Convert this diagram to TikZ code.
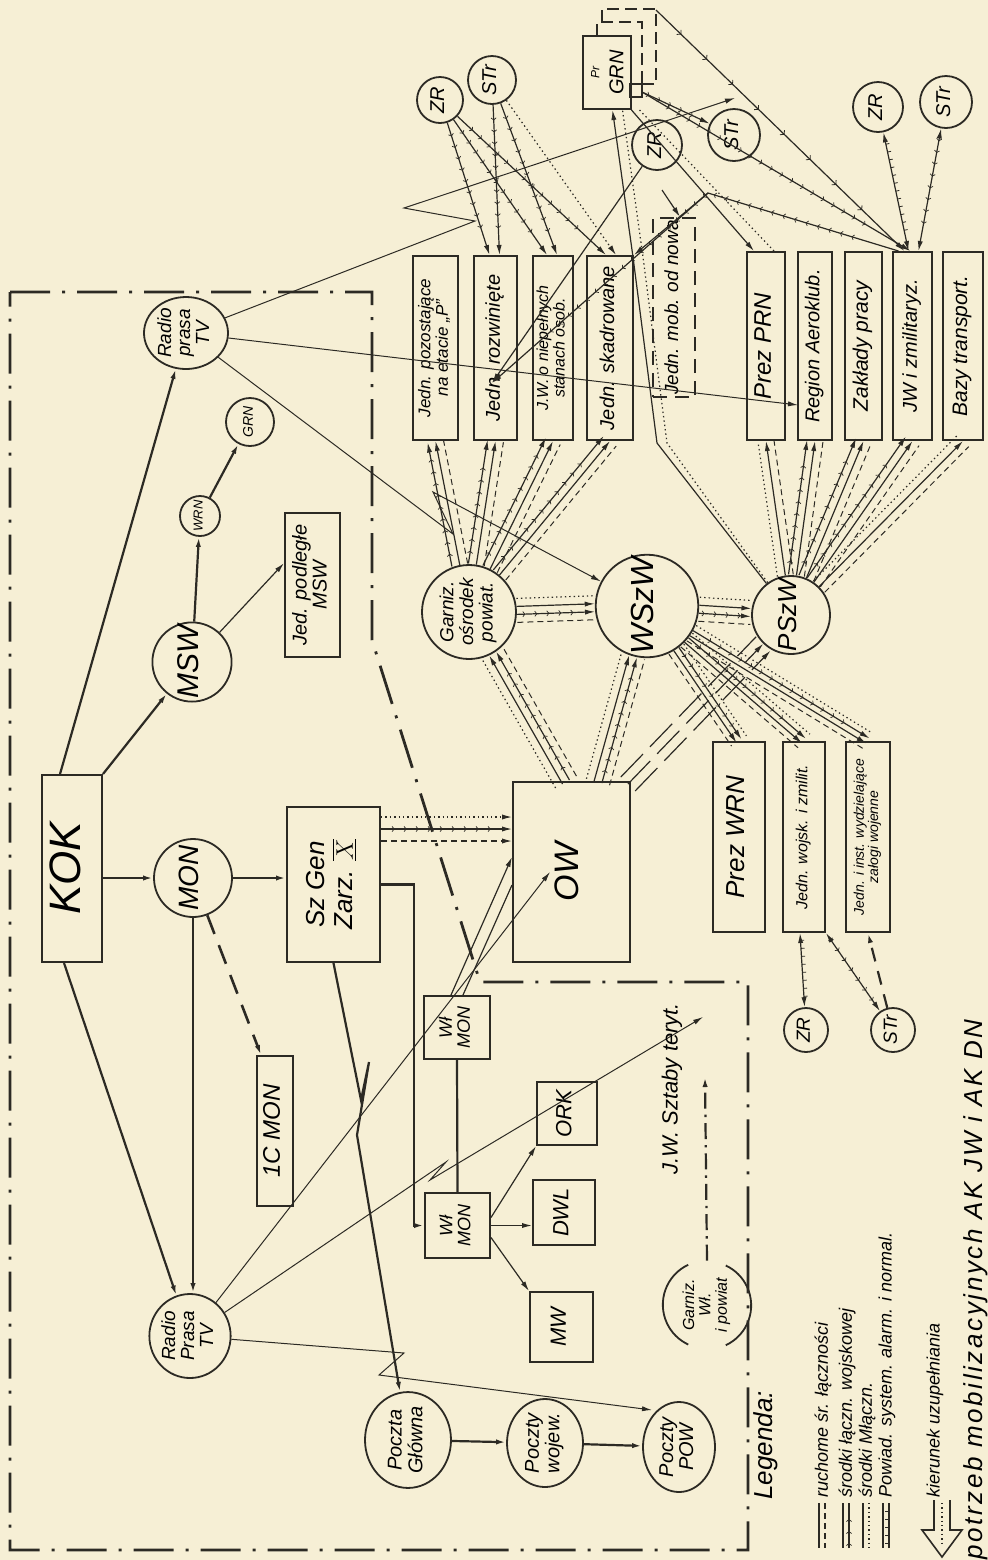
\documentclass[tikz,border=0pt]{standalone}
\usepackage{fontspec}
\setmainfont{Liberation Sans}
\usetikzlibrary{arrows.meta,calc,decorations.markings,shapes.geometric}
\definecolor{paper}{HTML}{F6EFD5}
\definecolor{ink}{HTML}{2C2A24}
\newcommand\rt[1]{\rotatebox{90}{\begin{tabular}{@{}c@{}}#1\end{tabular}}}
\newcommand\fs[1]{\fontsize{#1}{#1}\selectfont\itshape}
\newcommand\bund[3]{%
  \path let \p1=($(#2)-(#1)$) in \pgfextra{\pgfmathsetmacro\bundtmp{atan2(\y1,\x1)}\global\let\bundang\bundtmp};%
  \foreach \o/\s in {#3}{\draw[\s,transform canvas={shift={({\bundang+90}:\o)}}] (#1) -- (#2);}%
}
\tikzset{
  L/.style={draw=ink,line width=0.6pt},
  R/.style={draw=ink,line width=0.5pt},
  thk/.style={line width=1.1pt},
  A/.style={-{Latex[length=5pt,width=2.6pt]}},
  AA/.style={{Latex[length=5pt,width=2.6pt]}-{Latex[length=5pt,width=2.6pt]}},
  vm/.style={postaction={decorate,decoration={markings,mark=between positions 0.1 and 0.86 step 6pt with {\draw[ink,-,solid,line width=.35pt] (-1pt,1.3pt)--(0,0)--(-1pt,-1.3pt);}}}},
  sm/.style={postaction={decorate,decoration={markings,mark=between positions 0.1 and 0.86 step 18pt with {\draw[ink,-,solid,line width=.4pt] (-1.4pt,1.6pt)--(0,0)--(-1.4pt,-1.6pt);}}}},
  tm/.style={postaction={decorate,decoration={markings,mark=between positions 0.1 and 0.86 step 4pt with {\draw[ink,-,solid,line width=.4pt] (0,0)--(0,1.8pt);}}}},
  dt/.style={dash pattern=on 0.7pt off 1.5pt},
  ds/.style={dash pattern=on 3pt off 2pt},
  bsa/.style={L,A},
  bs/.style={L},
  bva/.style={L,A,vm},
  bv/.style={L,vm},
  bd/.style={L,ds,line width=.5pt},
  bdo/.style={L,dt},
  bka/.style={L,A,dash pattern=on 16pt off 5pt},
  bk/.style={L,dash pattern=on 16pt off 5pt},
  box/.style={draw=ink,line width=1pt,rectangle,inner sep=0pt},
  circ/.style={draw=ink,line width=.9pt,circle,inner sep=0pt},
  ell/.style={draw=ink,line width=.9pt,ellipse,inner sep=0pt},
  bord/.style={draw=ink,line width=1.4pt,dash pattern=on 20pt off 6pt on 1.5pt off 6pt},
  lab/.style={rotate=90,anchor=west,inner sep=0pt}
}
\begin{document}
\begin{tikzpicture}[x=0.5pt,y=-0.5pt]
\useasboundingbox (0,0) rectangle (988,1560);
\fill[paper] (0,0) rectangle (988,1560);
% border
\draw[bord] (10,292) -- (372,292) -- (372,640) -- (480,982) -- (748,982) -- (748,1550) -- (10,1550) -- cycle;
% ---------- nodes ----------
\node[box,minimum width=30pt,minimum height=93.5pt,font=\fs{22}] (KOK) at (72,868.5) {\rt{KOK}};
\node[circ,minimum size=39pt,font=\fs{14}] (MON) at (193,878) {\rt{MON}};
\node[box,minimum width=46.5pt,minimum height=77.5pt,font=\fs{13}] (SzGen) at (333.5,884.5) {\rt{Sz Gen\\Zarz. $\overline{\underline{X}}$}};
\node[box,minimum width=18pt,minimum height=75pt,font=\fs{12}] (IC) at (275,1131) {\rt{1C MON}};
\node[circ,minimum size=39pt,font=\fs{15}] (MSW) at (192,662) {\rt{MSW}};
\node[circ,minimum size=20pt,font=\fs{6.5}] (WRN) at (200,516) {\rt{WRN}};
\node[circ,minimum size=24pt,font=\fs{7}] (GRNs) at (250,422) {\rt{GRN}};
\node[box,minimum width=27.5pt,minimum height=72pt,font=\fs{10}] (JedP) at (312.5,585) {\rt{Jed. podległe\\MSW}};
\node[ell,minimum width=42pt,minimum height=36pt,font=\fs{9.5}] (RPt) at (186,333) {\rt{Radio\\prasa\\TV}};
\node[ell,minimum width=40pt,minimum height=42pt,font=\fs{9.5}] (RPb) at (190,1336) {\rt{Radio\\Prasa\\TV}};
\node[ell,minimum width=43pt,minimum height=46pt,font=\fs{10}] (PG) at (408,1440) {\rt{Poczta\\Główna}};
\node[ell,minimum width=38pt,minimum height=44pt,font=\fs{10}] (PW) at (545,1443) {\rt{Poczty\\wojew.}};
\node[ell,minimum width=36pt,minimum height=45pt,font=\fs{10}] (PP) at (679,1447) {\rt{Poczty\\POW}};
\node[circ,minimum size=47pt,font=\fs{9.5}] (Gar) at (469,612) {\rt{Garniz.\\ośrodek\\powiat.}};
\node[circ,minimum size=47pt,font=\fs{16}] (WSzW) at (647,606) {\rt{WSzW}};
\node[circ,minimum size=39pt,font=\fs{13}] (PSzW) at (791,615) {\rt{PSzW}};
\node[box,minimum width=58.5pt,minimum height=90pt,font=\fs{17}] (OW) at (571.5,872) {\rt{OW}};
\node[box,minimum width=26pt,minimum height=95pt,font=\fs{13}] (PrezWRN) at (739,837) {\rt{Prez WRN}};
\node[box,minimum width=21pt,minimum height=95pt,font=\fs{8}] (JWZ) at (804,837) {\rt{Jedn. wojsk. i zmilit.}};
\node[box,minimum width=22pt,minimum height=95pt,font=\fs{7}] (JIN) at (868,837) {\rt{Jedn. i inst. wydzielające\\załogi wojenne}};
\node[box,minimum width=33pt,minimum height=31.5pt,font=\fs{9}] (WM1) at (457,1027.5) {\rt{Wł\\MON}};
\node[box,minimum width=32.5pt,minimum height=32.5pt,font=\fs{9}] (WM2) at (457.5,1225.5) {\rt{Wł\\MON}};
\node[box,minimum width=30pt,minimum height=31.5pt,font=\fs{11}] (ORK) at (567,1113.5) {\rt{ORK}};
\node[box,minimum width=31pt,minimum height=32.5pt,font=\fs{11}] (DWL) at (564,1212.5) {\rt{DWL}};
\node[box,minimum width=31.5pt,minimum height=35pt,font=\fs{11}] (MW) at (561.5,1327) {\rt{MW}};
\node[circle,minimum size=44pt,inner sep=0pt,font=\fs{8}] (GW) at (707,1305) {\rt{Garniz.\\Wł.\\i powiat}};
% Jedn boxes
\node[box,minimum width=22.5pt,minimum height=92pt,font=\fs{8.5}] (J1) at (435.5,348) {\rt{Jedn. pozostające\\na etacie „P”}};
\node[box,minimum width=21.5pt,minimum height=92pt,font=\fs{10}] (J2) at (495.5,348) {\rt{Jedn. rozwinięte}};
\node[box,minimum width=20pt,minimum height=92pt,font=\fs{8}] (J3) at (553,348) {\rt{J.W. o niepełnych\\stanach osob.}};
\node[box,minimum width=23pt,minimum height=92pt,font=\fs{10}] (J4) at (610,348) {\rt{Jedn. skadrowane}};
\node[box,dash pattern=on 7pt off 4pt,line width=1.1pt,minimum width=21pt,minimum height=89.5pt,font=\fs{9.5}] (J5) at (674,307.5) {\rt{Jedn. mob. od nowa}};
% PSzW boxes
\node[box,minimum width=19pt,minimum height=94pt,font=\fs{12}] (P1) at (766,346) {\rt{Prez PRN}};
\node[box,minimum width=17pt,minimum height=94pt,font=\fs{10}] (P2) at (815,346) {\rt{Region Aeroklub.}};
\node[box,minimum width=18.5pt,minimum height=94pt,font=\fs{10.5}] (P3) at (863.5,346) {\rt{Zakłady pracy}};
\node[box,minimum width=19.5pt,minimum height=94pt,font=\fs{10}] (P4) at (912.5,346) {\rt{JW i zmilitaryz.}};
\node[box,minimum width=20pt,minimum height=94pt,font=\fs{10.5}] (P5) at (963,346) {\rt{Bazy transport.}};
% small circles
\node[circ,minimum size=23pt,font=\fs{10}] (ZR1) at (440,100) {\rt{ZR}};
\node[circ,minimum size=24pt,font=\fs{10}] (ST1) at (492,80) {\rt{STr}};
\node[box,minimum width=23.5pt,minimum height=36.5pt] (GRNb) at (606.5,72.5) {\rt{{\fs{6}Pr}\\{\fs{10}GRN}}};
\node[circ,minimum size=25pt,font=\fs{10}] (ZR2) at (657,145) {\rt{ZR}};
\node[circ,minimum size=26pt,font=\fs{10}] (ST2) at (734,135) {\rt{STr}};
\node[circ,minimum size=25pt,font=\fs{10}] (ZR3) at (878,107) {\rt{ZR}};
\node[circ,minimum size=26pt,font=\fs{10}] (ST3) at (946,102) {\rt{STr}};
\node[circ,minimum size=22pt,font=\fs{9.5}] (ZR4) at (806,1030) {\rt{ZR}};
\node[circ,minimum size=22pt,font=\fs{9.5}] (ST4) at (893,1030) {\rt{STr}};
% GRN dashed outlines
\draw[ink,line width=1.1pt,dash pattern=on 6pt off 3pt] (597,36) -- (597,22) -- (642,22) -- (642,84);
\draw[ink,line width=1.1pt,dash pattern=on 6pt off 3pt] (602,22) -- (602,9) -- (656,9) -- (656,84) -- (642,84);
\draw[ink,line width=.8pt] (630,84) rectangle (642,97);
% ---------- coordinates ----------
\coordinate (radioEnd) at (735,98);
\coordinate (aeroPt) at (798,405);
\coordinate (owIn) at (550,872);
\coordinate (jwTip) at (703,1017);
\coordinate (ppTip) at (652,1410);
\coordinate (gwTip) at (705,1077);
\coordinate (owa) at (566,782);
\coordinate (owb) at (598,782);
\coordinate (owc) at (628,784);
\coordinate (gsq) at (642,92);
\coordinate (gout) at (656,10);
\coordinate (mobC) at (708,193);
\coordinate (j2pt) at (492,383);
% ---------- left part ----------
\draw[L,thk,A] (KOK.north east) -- (MSW);
\draw[L,thk,A] ([xshift=-6pt]KOK.north) -- (RPt);
\draw[L,thk,A] (KOK.east |- MON) -- (MON);
\draw[L,thk,A] (MON) -- (SzGen.west |- MON);
\draw[L,thk,A] ([xshift=-4pt]KOK.south) -- (RPb);
\draw[L,thk,A] (MON) -- (MON |- RPb.north);
\draw[L,line width=1.3pt,A,dash pattern=on 10pt off 6pt] (MON) -- ([xshift=2.5pt]IC.north west);
\draw[L,thk,A] (MSW) -- (WRN);
\draw[L,thk,A] (WRN) -- (GRNs);
\draw[L,A] (MSW) -- ($(JedP.north west)!0.35!(JedP.south west)$);
% radio links
\draw[R,A] (RPt) -- (475,221) -- (404,208) -- (radioEnd);
\draw[R,A] (RPt) -- (aeroPt);
\draw[R,A] (RPt) -- (453,534) -- (433,492) -- (WSzW);
\draw[R,A] (RPb) -- (owIn);
\draw[R,A] (RPb) -- (446,1162) -- (430,1180) -- (jwTip);
\draw[R,A] (RPb) -- (404,1353) -- (379,1375) -- (ppTip);
% Sz Gen
\coordinate (sg1) at ([yshift=33.75pt]SzGen.east);
\coordinate (sg2) at ([yshift=27.75pt]SzGen.east);
\coordinate (sg3) at ([yshift=21.75pt]SzGen.east);
\draw[L,A,dt] (sg1) -- (sg1 -| OW.west);
\draw[L,A,vm] (sg2) -- (sg2 -| OW.west);
\draw[L,A,ds] (sg3) -- (sg3 -| OW.west);
\draw[L,thk,A] (SzGen.east) -- ++(33,0) |- (WM2.west);
\draw[L,thk,A] (SzGen.south) -- (361,1100) -- (369,1062) -- (357,1135) -- (PG);
\draw[L,thk,A] (PG) -- (PW);
\draw[L,thk,A] (PW) -- (PP);
% Wl MON
\draw[L,thk] (WM1.south) -- (WM2.north);
\draw[L,A] ([xshift=-3pt]WM1.north) -- ([yshift=7.5pt]OW.west);
\draw[L] ([xshift=3pt]WM1.north) -- ([yshift=-6.5pt]OW.west);
\draw[L,A] (WM2.east) -- (WM2.east -| DWL.west);
\draw[L,A] ([yshift=4pt]WM2.east) -- (ORK.south west);
\draw[L,A] ([yshift=-6pt]WM2.east) -- (MW.north west);
% Garniz Wl
\draw[ink,line width=.9pt] (GW.115) arc[start angle=115,end angle=245,radius=22pt];
\draw[ink,line width=.9pt] (GW.-65) arc[start angle=-65,end angle=65,radius=22pt];
\draw[L,thk,A,dash pattern=on 8pt off 3pt on 1.2pt off 3pt] (GW.north) -- (gwTip);
\node[lab,font=\fs{11}] (jwlab) at (672,1175) {J.W. Sztaby teryt.};
% ---------- bundles ----------
\bund{owa}{Gar}{-6pt/bd,-2pt/bva,2pt/bsa,6pt/bdo}
\bund{owb}{WSzW}{-6pt/bd,-2pt/bva,2pt/bsa,6pt/bdo}
\bund{owc}{PSzW}{-5pt/bka,0pt/bka,5pt/bk}
\bund{Gar}{WSzW}{-6pt/bd,-2pt/bva,2pt/bsa,6pt/bdo}
\bund{WSzW}{PSzW}{-6pt/bd,-2pt/bva,2pt/bsa,6pt/bdo}
\bund{Gar}{J1.south}{-4pt/bd,0pt/bsa,4pt/bva}
\bund{Gar}{J2.south}{-4pt/bd,0pt/bsa,4pt/bva}
\bund{Gar}{J3.south}{-4pt/bd,0pt/bsa,4pt/bva}
\bund{Gar}{J4.south}{-4pt/bd,0pt/bsa,4pt/bva}
\bund{WSzW}{PrezWRN.north}{-4.5pt/bd,-1.5pt/bsa,1.5pt/bva,4.5pt/bdo}
\bund{WSzW}{JWZ.north}{-4.5pt/bd,-1.5pt/bsa,1.5pt/bva,4.5pt/bdo}
\bund{WSzW}{JIN.north}{-4.5pt/bd,-1.5pt/bsa,1.5pt/bva,4.5pt/bdo}
\bund{PSzW}{P1.south}{-4pt/bd,0pt/bsa,4pt/bdo}
\bund{PSzW}{P2.south}{-4pt/bd,0pt/bsa,4pt/bva}
\bund{PSzW}{P3.south}{-4pt/bd,0pt/bsa,4pt/bva}
\bund{PSzW}{P4.south}{-4pt/bd,0pt/bsa,4pt/bva}
\bund{PSzW}{P5.south}{-4pt/bd,0pt/bsa,4pt/bdo}
% ---------- top right ----------
\draw[L,A,vm] (ZR1) -- ([xshift=-3pt]J2.north);
\draw[L,A,vm] (ZR1) -- ([xshift=-3pt]J3.north);
\draw[L,A,vm] (ZR1) -- ([xshift=-2pt]J4.north);
\draw[L,A,vm] (ST1) -- ([xshift=2pt]J2.north);
\draw[L,A,vm] (ST1) -- ([xshift=2pt]J3.north);
\draw[L,A,dt] (ST1) -- ([xshift=3pt]J4.north);
\draw[L,A] (PSzW) -- (657,443) -- (633,257) -- ([xshift=3pt]GRNb.south);
\draw[L,dt] (PSzW) -- (667,443) -- (643,257) -- ([xshift=8pt]GRNb.south);
\draw[L,A,vm] (gsq) -- (ST2);
\draw[L,A] (GRNb.south east) -- ([xshift=-6pt]P1.north);
\draw[L,dt] ([xshift=4pt]GRNb.south east) -- ([xshift=4pt]P1.north);
\draw[L,A,sm] (gout) -- ([xshift=-4pt]P4.north);
\draw[L,A,vm] (gsq) -- ([xshift=-1pt]P4.north);
\draw[L,AA,tm] (ZR3) -- ([xshift=-2pt]P4.north);
\draw[L,AA,vm] (ST3) -- ([xshift=3pt]P4.north);
\draw[L,A,vm] ([xshift=-7pt]P4.north) -- (mobC) -- (j2pt);
\draw[L,A] (mobC) -- (J4.north east);
\draw[L,A] (ZR2) -- (j2pt);
\draw[L,A] (662,190) -- ([xshift=3pt]J5.north);
% bottom right
\draw[L,AA,tm] ([xshift=-2pt]JWZ.south) -- (ZR4);
\draw[L,AA,vm] (JWZ.south east) -- (ST4);
\draw[L,thk,A,dash pattern=on 7pt off 5pt] (ST4) -- (JIN.south);
% ---------- legend ----------
\node[lab,font=\fs{13}] (lg0) at (766,1500) {Legenda:};
\node[lab,font=\fs{9}] (lg1) at (823,1498) {ruchome śr. łączności};
\node[lab,font=\fs{9}] (lg2) at (847,1498) {środki łączn. wojskowej};
\node[lab,font=\fs{9}] (lg3) at (867,1498) {środki Młączn.};
\node[lab,font=\fs{9}] (lg4) at (887,1498) {Powiad. system. alarm. i normal.};
\node[lab,font=\fs{9}] (lg5) at (935,1498) {kierunek uzupełniania};
\node[lab,font={\fs{13}\addfontfeature{LetterSpace=10}}] (lg6) at (976,1560) {potrzeb mobilizacyjnych AK JW i AK DN};
\draw[L] (819,1503) -- (819,1548); \draw[L,ds] (825,1503) -- (825,1548);
\draw[L] (843,1503) -- (843,1548); \draw[L,vm] (849,1548) -- (849,1503);
\draw[L] (863,1503) -- (863,1548); \draw[L,dt] (869,1503) -- (869,1548);
\draw[L] (883,1503) -- (883,1548); \draw[L,tm] (889,1548) -- (889,1503);
\draw[L,line width=.8pt] (934,1500) -- (934,1530) -- (922,1530) -- (942,1557) -- (962,1530) -- (950,1530) -- (950,1500);
\draw[L,dt] (942,1503) -- (942,1545);
\end{tikzpicture}
\end{document}
